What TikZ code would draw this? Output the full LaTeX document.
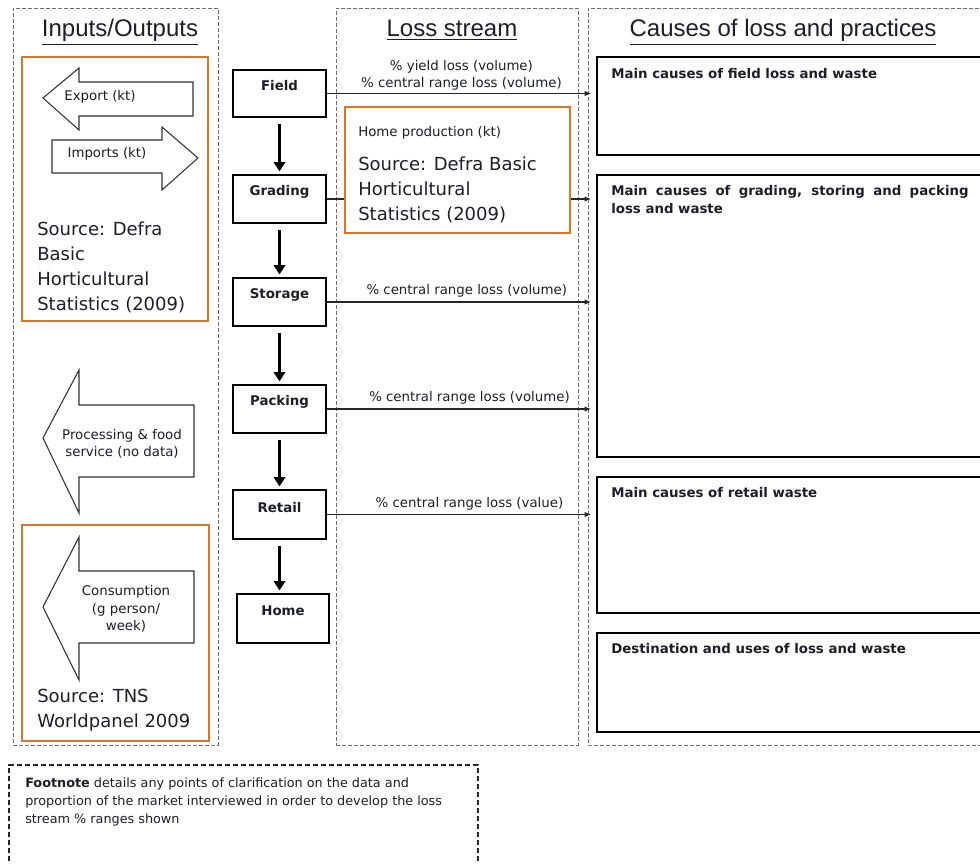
\documentclass[tikz,border=0pt]{standalone}
\usepackage{fontspec}
\setmainfont{DejaVu Sans}
\newfontfamily\arialfont{Liberation Sans}
\usetikzlibrary{arrows.meta,fit,calc}
\definecolor{orangeC}{RGB}{214,120,44}
\definecolor{dashgray}{RGB}{110,110,110}
\definecolor{txt}{RGB}{30,30,40}
\begin{document}
\begin{tikzpicture}[x=0.75pt,y=-0.75pt,
  colbox/.style={draw=dashgray, dash pattern=on 3pt off 1.5pt, line width=0.6pt, inner sep=0pt},
  footbox/.style={draw=black!85, dash pattern=on 4pt off 2pt, line width=0.8pt, inner sep=0pt},
  coltitle/.style={font=\arialfont\fontsize{18}{20}\selectfont, text=txt, anchor=base, inner sep=0pt},
  othick/.style={draw=orangeC, line width=2.2pt, inner sep=0pt},
  othin/.style={draw=orangeC, line width=1.1pt, inner sep=0pt},
  flowbox/.style={draw=black, line width=1.3pt, inner sep=0pt},
  flowlbl/.style={font=\bfseries\fontsize{10}{12}\selectfont, text=txt, inner sep=0pt},
  flowarr/.style={line width=2.4pt, -{Triangle[width=8.5pt,length=7pt]}, shorten <=4.5pt, shorten >=2pt},
  lossarr/.style={line width=1pt, draw=black!85, -{Latex[length=5pt,width=4pt]}, shorten >=3.5pt},
  smalltxt/.style={font=\fontsize{10}{13}\selectfont, text=txt, inner sep=0pt},
  srctxt/.style={font=\fontsize{13.5}{18.6}\selectfont, text=txt, align=left, inner sep=0pt, anchor=north west},
  causebox/.style={draw=black, line width=1.5pt, inner sep=0pt},
  causelbl/.style={font=\bfseries\fontsize{10}{13}\selectfont, text=txt, anchor=base west, inner sep=0pt, align=left},
  blockarr/.style={draw=black!80, line width=0.8pt, fill=white, line join=miter}
]
\useasboundingbox (0,0) rectangle (980,863);
\clip (0,0) rectangle (980,863);

% columns
\node[colbox, fit={(13,8) (218,745)}] (colIO) {};
\node[colbox, fit={(336,8) (578,745)}] (colLS) {};
\node[colbox, fit={(588,8) (1000,745)}] (colCL) {};

\node[coltitle] (tIO) at (120,37) {\underline{Inputs/Outputs}};
\node[coltitle] (tLS) at (452,37) {\underline{Loss stream}};
\node[coltitle] (tCL) at (783,37) {\underline{Causes of loss and practices}};

% inputs / outputs
\node[othick, fit={(22,57) (208,321)}] (src1) {};
\draw[blockarr] (43,98) -- (79,68) -- (79,82) -- (193,82) -- (193,116) -- (79,116) -- (79,130) -- cycle;
\node[smalltxt] (export) at (100,97) {Export (kt)};
\draw[blockarr] (198,158) -- (162,127) -- (162,140) -- (52,140) -- (52,173) -- (162,173) -- (162,190) -- cycle;
\node[smalltxt] (imports) at (107,154) {Imports (kt)};
\node[srctxt] (src1txt) at (37,222) {Source: Defra\\Basic\\Horticultural\\Statistics (2009)};

\draw[blockarr] (43,438) -- (79,370) -- (79,405) -- (194,405) -- (194,477) -- (79,477) -- (79,513) -- cycle;
\node[smalltxt, align=center] (proc) at (122,444) {Processing \& food\\service (no data)};

\node[othin, fit={(22,525) (209,741)}] (src2) {};
\draw[blockarr] (43,607) -- (79,537) -- (79,571) -- (194,571) -- (194,643) -- (79,643) -- (79,680) -- cycle;
\node[smalltxt, align=center] (cons) at (126,609) {Consumption\\(g person/\\week)};
\node[srctxt] (src2txt) at (37,689) {Source: TNS\\Worldpanel 2009};

% flow boxes
\node[flowbox, fit={(233,70) (326,117)}] (field) {};
\node[flowbox, fit={(233,175) (326,223)}] (grading) {};
\node[flowbox, fit={(233,278) (326,326)}] (storage) {};
\node[flowbox, fit={(233,385) (326,433)}] (packing) {};
\node[flowbox, fit={(233,490) (326,539)}] (retail) {};
\node[flowbox, fit={(237,594) (329,643)}] (home) {};

\node[flowlbl] (fieldlbl) at ($(field.north)+(0,16)$) {Field};
\node[flowlbl] (gradinglbl) at ($(grading.north)+(0,18)$) {Grading};
\node[flowlbl] (storagelbl) at ($(storage.north)+(0,18)$) {Storage};
\node[flowlbl] (packinglbl) at ($(packing.north)+(0,18)$) {Packing};
\node[flowlbl] (retaillbl) at ($(retail.north)+(0,18)$) {Retail};
\node[flowlbl] (homelbl) at ($(home.north)+(0,18)$) {Home};

\draw[flowarr] (field.south) -- (grading.north);
\draw[flowarr] (grading.south) -- (storage.north);
\draw[flowarr] (storage.south) -- (packing.north);
\draw[flowarr] (packing.south) -- (retail.north);
\draw[flowarr] (retail.south) -- (retail.south |- home.north);

% causes boxes
\node[causebox, fit={(597,57) (1000,155)}] (c1) {};
\node[causebox, fit={(597,175) (1000,457)}] (c2) {};
\node[causebox, fit={(597,477) (1000,613)}] (c3) {};
\node[causebox, fit={(597,633) (1000,732)}] (c4) {};

\node[causelbl] (c1lbl) at ($(c1.north west)+(15,23)$) {Main causes of field loss and waste};
\node[causelbl] (c2lbl) at ($(c2.north west)+(15,39)$) {\makebox[268pt][s]{Main causes of grading, storing and packing}\\loss and waste};
\node[causelbl] (c3lbl) at ($(c3.north west)+(15,21)$) {Main causes of retail waste};
\node[causelbl] (c4lbl) at ($(c4.north west)+(15,21)$) {Destination and uses of loss and waste};

% loss arrows
\draw[lossarr] (field.east) -- (field.east -| c1.west)
  node[pos=0.5, above=2pt, smalltxt, align=center] (fieldloss) {\% yield loss (volume)\\\% central range loss (volume)};
\draw[lossarr] (grading.east) -- (grading.east -| c2.west);
\draw[lossarr] (storage.east) -- (storage.east -| c2.west)
  node[pos=0.52, above=3pt, smalltxt] (storageloss) {\% central range loss (volume)};
\draw[lossarr] (packing.east) -- (packing.east -| c2.west)
  node[pos=0.53, above=3pt, smalltxt] (packingloss) {\% central range loss (volume)};
\draw[lossarr] (retail.east) -- (retail.east -| c3.west)
  node[pos=0.53, above=3pt, smalltxt] (retailloss) {\% central range loss (value)};

% home production
\node[othin, fill=white, fit={(345,107) (570,233)}] (homeprod) {};
\node[smalltxt, anchor=base west] (hptxt) at (358,137) {Home production (kt)};
\node[srctxt] (hpsrc) at (358,157) {Source: Defra Basic\\Horticultural\\Statistics (2009)};

% footnote
\node[footbox, fit={(9,765) (478,880)}] (foot) {};
\node[anchor=north west, inner sep=0pt, align=left, text=txt, font=\fontsize{9.6}{13.8}\selectfont] (foottxt) at (25,777)
  {\textbf{Footnote} details any points of clarification on the data and\\proportion of the market interviewed in order to develop the loss\\stream \% ranges shown};
\end{tikzpicture}
\end{document}
